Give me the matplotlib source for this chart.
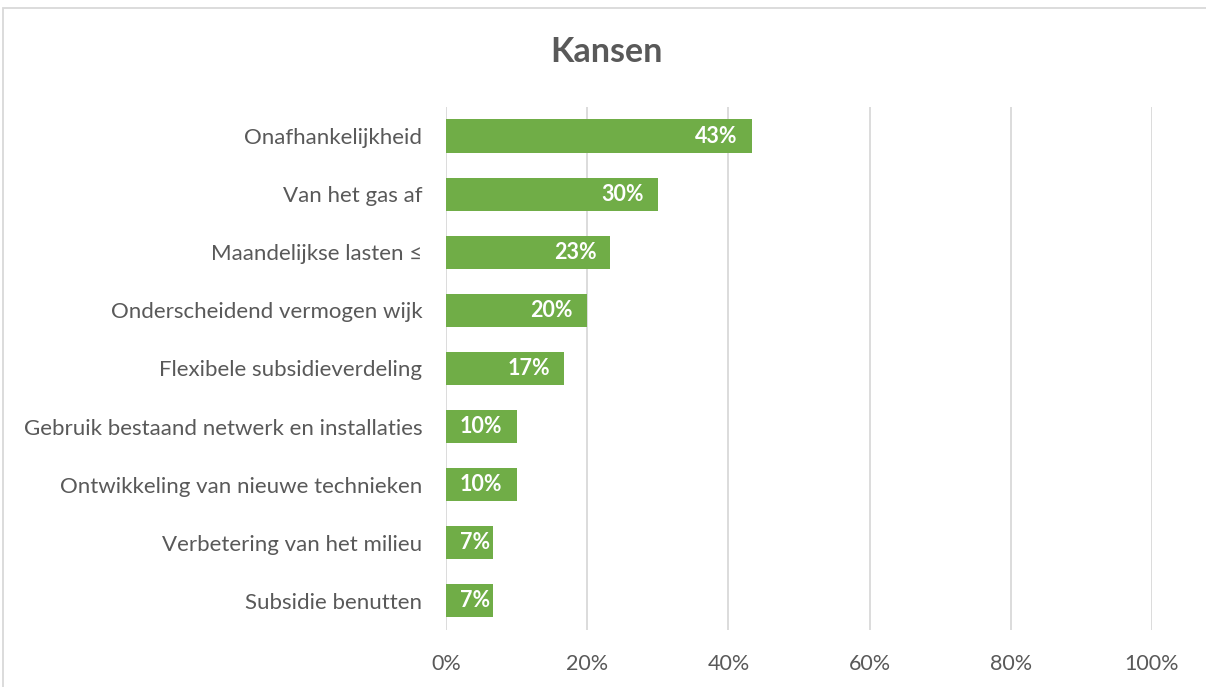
import matplotlib.pyplot as plt
from matplotlib.patches import Rectangle

categories = [
    "Onafhankelijkheid",
    "Van het gas af",
    "Maandelijkse lasten \u2264",
    "Onderscheidend vermogen wijk",
    "Flexibele subsidieverdeling",
    "Gebruik bestaand netwerk en installaties",
    "Ontwikkeling van nieuwe technieken",
    "Verbetering van het milieu",
    "Subsidie benutten",
]
values = [43.3, 30.0, 23.3, 20.0, 16.7, 10.0, 10.0, 6.7, 6.7]
ticks = [0, 20, 40, 60, 80, 100]
tick_labels = ["0%", "20%", "40%", "60%", "80%", "100%"]

plt.rcParams["font.family"] = ["Lato", "DejaVu Sans"]
text_color = "#595959"
green = "#70AD47"

fig = plt.figure(figsize=(12.06, 6.87), dpi=100)
ax = fig.add_axes([0.3698, 0.0830, 0.5854, 0.7613])

y = list(range(len(categories)))
ax.barh(y, values, height=0.57, color=green, zorder=3)
for yi, v in zip(y, values):
    # inside end, but short bars keep the label within the bar
    ax.text(max(v - 2.0, 6.3), yi, f"{v:.0f}%", ha="right", va="center",
            color="white", fontweight="bold", fontsize=15.5, zorder=4)

ax.set_xlim(0, 100)
ax.set_ylim(len(categories) - 0.5, -0.5)
ax.set_xticks(ticks)
ax.set_xticklabels(tick_labels)
ax.set_yticks(y)
ax.set_yticklabels(categories)
ax.tick_params(axis="both", length=0, colors=text_color)
ax.tick_params(axis="y", pad=17, labelsize=16)
ax.tick_params(axis="x", pad=17, labelsize=15.5)
ax.grid(axis="x", color="#D9D9D9", linewidth=1.3, zorder=0)
for s in ax.spines.values():
    s.set_visible(False)

fig.text(0.5025, 0.925, "Kansen", ha="center", va="center",
         fontsize=24.5, fontweight="bold", color=text_color)

# chart border (cropped on right and bottom)
fig.patches.append(Rectangle((3 / 1206, -0.05), 1.1, 1 - 8 / 687 + 0.05,
                             transform=fig.transFigure, fill=False,
                             edgecolor="#D9D9D9", linewidth=1.3, clip_on=False))

fig.savefig("out.png", dpi=100)
